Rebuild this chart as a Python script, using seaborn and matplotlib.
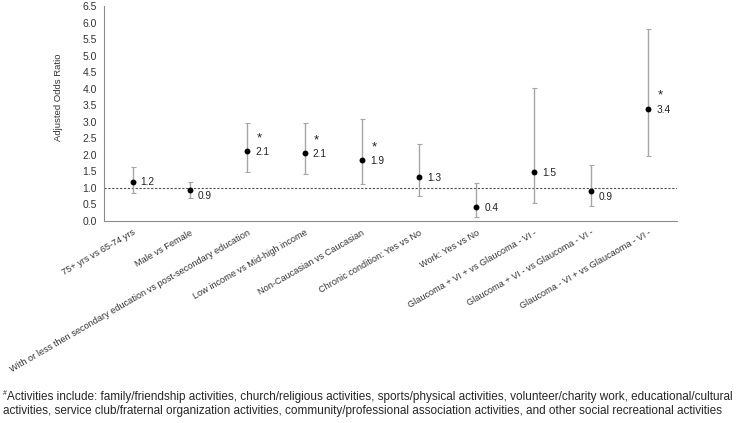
import matplotlib
matplotlib.use("Agg")
import matplotlib.pyplot as plt
import seaborn as sns
import pandas as pd

# values
categories = ["75+ yrs vs 65-74 yrs",
              "Male vs Female",
              "With or less then secondary education vs post-secondary education",
              "Low income vs Mid-high income",
              "Non-Caucasian vs Caucasian",
              "Chronic condition: Yes vs No",
              "Work: Yes vs No",
              "Glaucoma + VI + vs Glaucoma - VI -",
              "Glaucoma + VI - vs Glaucoma - VI -",
              "Glaucoma - VI + vs Glaucaoma - VI -"]
odds = [1.19, 0.93, 2.11, 2.05, 1.84, 1.33, 0.41, 1.47, 0.90, 3.39]
ci_low = [0.86, 0.70, 1.49, 1.42, 1.12, 0.75, 0.13, 0.54, 0.44, 1.96]
ci_high = [1.62, 1.19, 2.95, 2.95, 3.08, 2.34, 1.16, 4.01, 1.70, 5.80]
labels = ["1.2", "0.9", "2.1", "2.1", "1.9", "1.3", "0.4", "1.5", "0.9", "3.4"]
significant = [False, False, True, True, True, False, False, False, False, True]

footnote1 = ("Activities include: family/friendship activities, church/religious activities, "
             "sports/physical activities, volunteer/charity work, educational/cultural")
footnote2 = ("activities, service club/fraternal organization activities, community/professional "
             "association activities, and other social recreational activities")

df = pd.DataFrame({"cat": categories, "odds": odds, "lo": ci_low, "hi": ci_high})

sns.set_style("white")
plt.rcParams["font.family"] = ["Liberation Sans", "DejaVu Sans"]

fig = plt.figure(figsize=(7.4, 4.23), dpi=100)
ax = fig.add_axes([104 / 740, 1 - 221 / 423, 573 / 740, 215 / 423])

ax.axhline(1.0, color="#505050", lw=0.8, ls=(0, (2, 1.5)), zorder=1)
ax.errorbar(range(len(df)), df["odds"],
            yerr=[df["odds"] - df["lo"], df["hi"] - df["odds"]],
            fmt="none", ecolor="#a6a6a6", elinewidth=1.0, capsize=1.8, capthick=0.8, zorder=2)
sns.scatterplot(data=df, x="cat", y="odds", color="black", s=18, edgecolor="black",
                linewidth=0, zorder=3, ax=ax)

# value labels, pushed down a little when they would sit on the reference line
for i, (v, lab, sig) in enumerate(zip(odds, labels, significant)):
    dy = -4 if abs(v - 1) < 0.12 else -0.5
    ax.annotate(lab, (i, v), xytext=(5.8, dy), textcoords="offset points",
                ha="left", va="center", fontsize=7.3, color="#222222")
    if sig:
        ax.annotate("*", (i, v), xytext=(6.8, 5), textcoords="offset points",
                    ha="left", va="bottom", fontsize=9.5, color="#222222")

ax.set_xlim(-0.5, len(categories) - 0.5)
ax.set_ylim(0, 6.5)
ax.set_yticks([i * 0.5 for i in range(14)])
ax.set_yticklabels([f"{i * 0.5:.1f}" for i in range(14)])
ax.set_xticks(range(len(categories)))
ax.set_xticklabels(categories, rotation=30, ha="right", rotation_mode="anchor")
ax.tick_params(axis="both", length=0, colors="#333333")
ax.tick_params(axis="y", pad=5, labelsize=7.5)
ax.tick_params(axis="x", pad=5, labelsize=6.6)
ax.set_xlabel("")
ax.set_ylabel("Adjusted Odds Ratio", fontsize=6.8, color="#333333")
ax.yaxis.set_label_coords(-0.072, 0.577)

for side in ["top", "right"]:
    ax.spines[side].set_visible(False)
for side in ["left", "bottom"]:
    ax.spines[side].set_color("#8c8c8c")
    ax.spines[side].set_linewidth(0.8)

foot_font = ["Liberation Sans Narrow", "Liberation Sans"]
fig.text(3 / 740, 1 - 393 / 423, "#", fontsize=5, family=foot_font, va="center", ha="left")
fig.text(7 / 740, 1 - 397 / 423, footnote1, fontsize=8.5, family=foot_font, va="center", ha="left")
fig.text(3 / 740, 1 - 411 / 423, footnote2, fontsize=8.5, family=foot_font, va="center", ha="left")

fig.savefig("out.png", dpi=100)
